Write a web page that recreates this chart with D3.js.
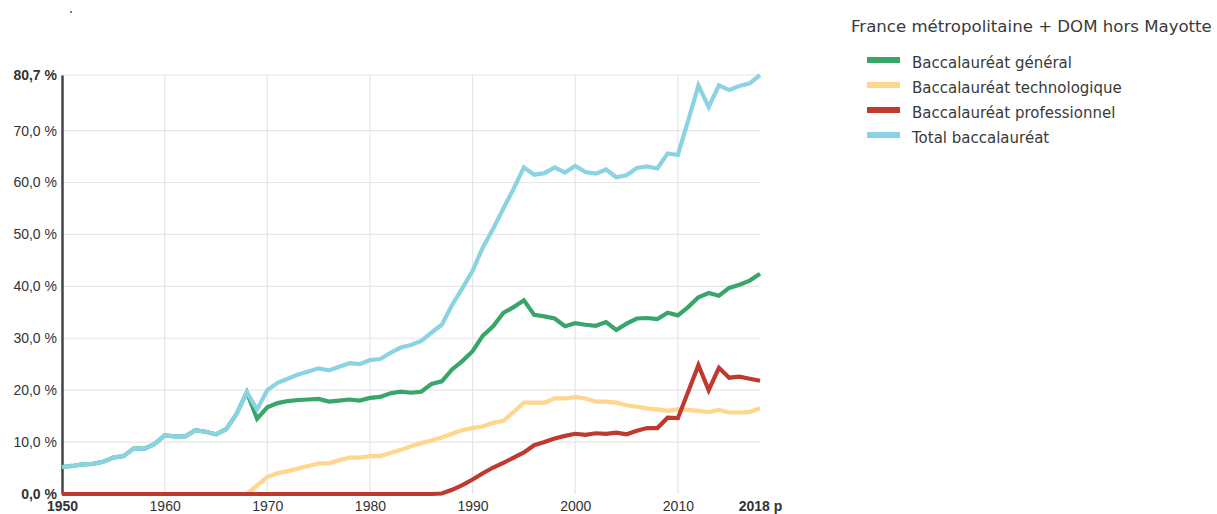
<!DOCTYPE html>
<html>
<head>
<meta charset="utf-8">
<script src="https://cdn.jsdelivr.net/npm/d3@7"></script>
<style>
  body { margin: 0; background: #fff; }
  svg { display: block; }
</style>
</head>
<body>
<svg id="chart" width="1217" height="514"></svg>
<script>
// data
const years = d3.range(1950, 2019);

const total = [5.2, 5.4, 5.7, 5.8, 6.2, 7.0, 7.3, 8.8, 8.7, 9.6,
  11.3, 11.1, 11.1, 12.3, 12.0, 11.5, 12.5, 15.4, 19.6, 16.3,
  20.0, 21.4, 22.2, 23.0, 23.6, 24.2, 23.8, 24.5, 25.2, 25.0,
  25.8, 26.0, 27.2, 28.2, 28.7, 29.5, 31.1, 32.6, 36.4, 39.6,
  43.0, 47.5, 51.1, 55.0, 58.8, 62.9, 61.5, 61.8, 62.9, 61.9,
  63.2, 62.0, 61.7, 62.5, 61.0, 61.4, 62.8, 63.1, 62.7, 65.6,
  65.3, 71.9, 78.7, 74.5, 78.7, 77.8, 78.6, 79.1, 80.7];

// 1950-1968 : only the general bac exists, same as total
const general = total.slice(0, 19).concat([14.5,
  16.7, 17.5, 17.9, 18.1, 18.2, 18.3, 17.8, 18.0, 18.2, 18.0,
  18.5, 18.7, 19.4, 19.7, 19.5, 19.7, 21.2, 21.7, 24.0, 25.6,
  27.5, 30.5, 32.3, 34.9, 36.0, 37.3, 34.5, 34.2, 33.8, 32.3,
  32.9, 32.6, 32.4, 33.1, 31.6, 32.8, 33.8, 33.9, 33.7, 34.9,
  34.4, 36.0, 37.9, 38.7, 38.2, 39.7, 40.3, 41.1, 42.4]);

// starts in 1968
const techno = d3.range(18).map(() => null).concat([0.0, 1.6,
  3.3, 4.0, 4.4, 4.9, 5.4, 5.9, 5.9, 6.5, 7.0, 7.0,
  7.3, 7.3, 7.9, 8.5, 9.2, 9.8, 10.3, 10.9, 11.6, 12.3,
  12.7, 13.0, 13.7, 14.1, 15.8, 17.6, 17.6, 17.6, 18.4, 18.4,
  18.7, 18.4, 17.8, 17.8, 17.6, 17.1, 16.8, 16.5, 16.3, 16.0,
  16.3, 16.2, 16.0, 15.8, 16.2, 15.7, 15.7, 15.8, 16.5]);

const pro = d3.range(37).map(() => 0).concat([0.1, 0.8, 1.7,
  2.8, 4.0, 5.1, 6.0, 7.0, 8.0, 9.4, 10.0, 10.7, 11.2,
  11.6, 11.4, 11.7, 11.6, 11.8, 11.5, 12.2, 12.7, 12.7, 14.7,
  14.6, 19.7, 24.8, 20.0, 24.3, 22.4, 22.6, 22.2, 21.8]);

const seriesNames = ["Baccalauréat général", "Baccalauréat technologique", "Baccalauréat professionnel", "Total baccalauréat"];
const seriesValues = [general, techno, pro, total];
const seriesColors = ["#38a56b", "#fed68d", "#c0392f", "#8ad3e3"];

const yTicks = [0, 10, 20, 30, 40, 50, 60, 70, 80.7];
const xTicks = [1950, 1960, 1970, 1980, 1990, 2000, 2010, 2018];
const legendTitle = "France métropolitaine + DOM hors Mayotte";

// setup
const svg = d3.select("#chart");
const margin = {top: 75, right: 457, bottom: 20, left: 62};
const width = 1217 - margin.left - margin.right;
const height = 514 - margin.top - margin.bottom;

const x = d3.scaleLinear().domain([1950, 2018]).range([0, width]);
const y = d3.scaleLinear().domain([0, 80.7]).range([height, 0]);

// stray dot in the top left corner
svg.append("rect").attr("x", 70).attr("y", 11).attr("width", 2).attr("height", 2).attr("fill", "#38a56b");

const g = svg.append("g").attr("transform", `translate(${margin.left},${margin.top})`);

// grid
g.append("g")
  .selectAll("line")
  .data(yTicks.slice(1))
  .join("line")
  .attr("x1", 0).attr("x2", width)
  .attr("y1", d => y(d)).attr("y2", d => y(d))
  .attr("stroke", "#e6e6e6").attr("stroke-width", 1.2);

g.append("g")
  .selectAll("line")
  .data(xTicks.slice(1, -1))
  .join("line")
  .attr("x1", d => x(d)).attr("x2", d => x(d))
  .attr("y1", 0).attr("y2", height)
  .attr("stroke", "#e6e6e6").attr("stroke-width", 1.2);

// axes
const yAxis = d3.axisLeft(y)
  .tickValues(yTicks)
  .tickSize(0)
  .tickPadding(5)
  .tickFormat(d => d3.format(".1f")(d).replace(".", ",") + " %");

const yG = g.append("g").call(yAxis);
yG.select(".domain").attr("stroke", "#444").attr("stroke-width", 2.5);
yG.selectAll("text")
  .attr("font-family", "'Liberation Sans', Arial, sans-serif")
  .attr("font-size", 14)
  .attr("fill", "#333")
  .attr("font-weight", d => (d === 0 || d === 80.7) ? "bold" : "normal");

const xAxis = d3.axisBottom(x)
  .tickValues(xTicks)
  .tickSize(0)
  .tickPadding(7)
  .tickFormat(d => d === 2018 ? "2018 p" : d);

const xG = g.append("g").attr("transform", `translate(0,${height})`).call(xAxis);
xG.select(".domain").remove();
xG.selectAll("text")
  .attr("font-family", "'Liberation Sans', Arial, sans-serif")
  .attr("font-size", 14)
  .attr("fill", "#333")
  .attr("font-weight", d => (d === 1950 || d === 2018) ? "bold" : "normal");

// lines
const line = d3.line()
  .defined(d => d[1] !== null)
  .x(d => x(d[0]))
  .y(d => y(d[1]));

// drawing order : techno, general, pro, total on top
[1, 0, 2, 3].forEach(i => {
  g.append("path")
    .datum(years.map((yr, k) => [yr, seriesValues[i][k]]))
    .attr("fill", "none")
    .attr("stroke", seriesColors[i])
    .attr("stroke-width", 4.2)
    .attr("stroke-linejoin", "miter")
    .attr("d", line);
});

// legend
const legend = svg.append("g").attr("font-family", "'DejaVu Sans', sans-serif");
legend.append("text")
  .attr("x", 851).attr("y", 31.5)
  .attr("font-size", 16.6)
  .attr("fill", "#3a3a3a")
  .text(legendTitle);

const items = legend.selectAll("g.item")
  .data(seriesNames)
  .join("g")
  .attr("class", "item")
  .attr("transform", (d, i) => `translate(867,${60 + i * 25})`);

items.append("rect")
  .attr("x", 0).attr("y", -3)
  .attr("width", 33).attr("height", 6)
  .attr("fill", (d, i) => seriesColors[i]);

items.append("text")
  .attr("x", 45).attr("y", 7.5)
  .attr("font-size", 15)
  .attr("fill", "#3a3a3a")
  .text(d => d);
</script>
</body>
</html>
